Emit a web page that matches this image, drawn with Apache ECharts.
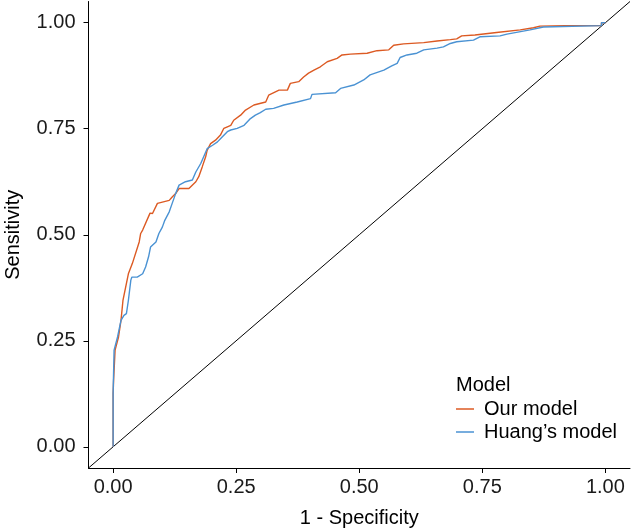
<!DOCTYPE html>
<html>
<head>
<meta charset="utf-8">
<script src="https://cdn.jsdelivr.net/npm/echarts@6/dist/echarts.min.js"></script>
<style>html,body{margin:0;padding:0;background:#fff;}#c{width:632px;height:531px;}</style>
</head>
<body>
<div id="c"></div>
<script>
const seriesNames = ["Our model", "Huang\u2019s model"];
const tickValues = [0, 0.25, 0.5, 0.75, 1];
const ourModel = [[0,0],[0,0.126],[0.001,0.157],[0.004,0.228],[0.011,0.259],[0.016,0.298],[0.020,0.345],[0.031,0.408],[0.039,0.432],[0.053,0.483],[0.056,0.503],[0.060,0.511],[0.075,0.551],[0.080,0.550],[0.090,0.574],[0.114,0.581],[0.120,0.589],[0.127,0.597],[0.134,0.609],[0.154,0.609],[0.168,0.625],[0.174,0.637],[0.181,0.660],[0.188,0.684],[0.191,0.699],[0.198,0.715],[0.208,0.723],[0.218,0.735],[0.225,0.751],[0.239,0.758],[0.245,0.770],[0.259,0.782],[0.269,0.794],[0.286,0.806],[0.310,0.813],[0.316,0.829],[0.337,0.841],[0.354,0.841],[0.360,0.857],[0.377,0.861],[0.387,0.872],[0.397,0.881],[0.408,0.888],[0.421,0.896],[0.435,0.908],[0.455,0.916],[0.465,0.924],[0.482,0.926],[0.516,0.928],[0.536,0.934],[0.560,0.936],[0.570,0.947],[0.590,0.950],[0.631,0.953],[0.658,0.957],[0.685,0.960],[0.698,0.962],[0.708,0.969],[0.735,0.971],[0.779,0.977],[0.827,0.983],[0.854,0.988],[0.867,0.992],[0.918,0.993],[0.992,0.993],[0.992,1],[1,1]];
const huangModel = [[0,0],[0,0.126],[0.002,0.228],[0.009,0.259],[0.016,0.298],[0.022,0.310],[0.027,0.314],[0.031,0.345],[0.036,0.393],[0.038,0.400],[0.049,0.400],[0.060,0.408],[0.066,0.424],[0.072,0.448],[0.076,0.471],[0.087,0.483],[0.093,0.503],[0.100,0.518],[0.105,0.534],[0.114,0.554],[0.120,0.574],[0.127,0.597],[0.134,0.617],[0.147,0.625],[0.161,0.629],[0.168,0.648],[0.178,0.668],[0.184,0.684],[0.191,0.703],[0.202,0.711],[0.212,0.719],[0.222,0.731],[0.232,0.743],[0.239,0.747],[0.252,0.751],[0.266,0.758],[0.279,0.774],[0.289,0.782],[0.299,0.788],[0.310,0.796],[0.326,0.798],[0.347,0.806],[0.374,0.813],[0.401,0.821],[0.404,0.831],[0.452,0.835],[0.462,0.845],[0.489,0.853],[0.509,0.865],[0.522,0.877],[0.550,0.888],[0.566,0.898],[0.577,0.904],[0.583,0.918],[0.597,0.924],[0.617,0.928],[0.631,0.936],[0.658,0.940],[0.671,0.943],[0.685,0.951],[0.698,0.955],[0.732,0.959],[0.746,0.967],[0.786,0.969],[0.800,0.973],[0.847,0.983],[0.874,0.990],[0.992,0.993],[0.992,1],[1,1]];
const diagonal = [[-0.05,-0.05],[1.05,1.05]];

const FONT = '"Liberation Sans", Arial, sans-serif';
const chart = echarts.init(document.getElementById('c'), null, {renderer:'canvas'});
const axisCommon = {
  type:'value', min:-0.05, max:1.05,
  axisLine:{show:true, onZero:false, lineStyle:{color:'#000', width:1}},
  axisTick:{show:true, length:5, lineStyle:{color:'#000', width:1}, customValues: tickValues},
  axisLabel:{customValues: tickValues, formatter:v=>v.toFixed(2), color:'#1a1a1a', fontSize:20, fontFamily:FONT},
  splitLine:{show:false},
  nameLocation:'middle',
  nameTextStyle:{color:'#000', fontSize:20, fontFamily:FONT}
};
chart.setOption({
  animation:false,
  backgroundColor:'#fff',
  grid:{left:88.5, right:2, top:1.5, bottom:63, containLabel:false, outerBoundsMode:'none'},
  title:{text:'Model', left:451, top:370, textStyle:{fontSize:20, fontWeight:'normal', color:'#000', fontFamily:FONT}},
  legend:{
    data: seriesNames, orient:'vertical', left:451, top:394,
    icon:'rect', itemWidth:18, itemHeight:1.5, itemGap:3,
    textStyle:{fontSize:20, color:'#000', fontFamily:FONT, padding:[0,0,0,5]}
  },
  xAxis: Object.assign({}, axisCommon, {name:'1 - Specificity', nameGap:40, axisLabel:Object.assign({}, axisCommon.axisLabel, {margin:9})}),
  yAxis: Object.assign({}, axisCommon, {name:'Sensitivity', nameGap:65, axisLabel:Object.assign({}, axisCommon.axisLabel, {margin:13})}),
  series:[
    {type:'line', name:'diag', data:diagonal, symbol:'none', lineStyle:{color:'#000', width:1}, silent:true, z:1},
    {type:'line', name:seriesNames[0], data:ourModel, symbol:'none', color:'#DC5A23', lineStyle:{color:'#DC5A23', width:1.4}, z:2},
    {type:'line', name:seriesNames[1], data:huangModel, symbol:'none', color:'#4A92D3', lineStyle:{color:'#4A92D3', width:1.4}, z:3}
  ]
});
</script>
</body>
</html>
